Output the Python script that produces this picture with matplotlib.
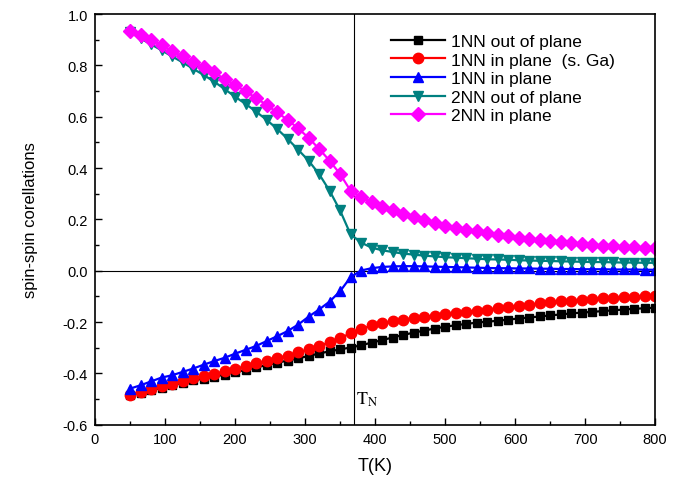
import matplotlib
matplotlib.use("Agg")
import matplotlib.pyplot as plt
from matplotlib.ticker import MultipleLocator

plt.rcParams['font.family'] = ['Liberation Sans', 'DejaVu Sans']
plt.rcParams['mathtext.fontset'] = 'stix'

T = [50 + 15 * i for i in range(51)]

nn1_out = [-0.485, -0.475, -0.466, -0.455, -0.446, -0.436, -0.427, -0.42, -0.413, -0.404,
           -0.395, -0.386, -0.376, -0.368, -0.358, -0.35, -0.341, -0.332, -0.322, -0.314,
           -0.306, -0.299, -0.29, -0.28, -0.27, -0.26, -0.25, -0.241, -0.233, -0.225,
           -0.218, -0.212, -0.207, -0.202, -0.198, -0.195, -0.19, -0.186, -0.182, -0.178,
           -0.174, -0.17, -0.166, -0.163, -0.16, -0.157, -0.154, -0.151, -0.148, -0.146,
           -0.144]
nn1_in_ga = [-0.482, -0.472, -0.462, -0.45, -0.44, -0.429, -0.418, -0.41, -0.401, -0.392,
             -0.382, -0.372, -0.361, -0.351, -0.34, -0.33, -0.318, -0.306, -0.293, -0.278,
             -0.262, -0.244, -0.227, -0.213, -0.205, -0.197, -0.19, -0.184, -0.179, -0.175,
             -0.17, -0.165, -0.159, -0.155, -0.151, -0.146, -0.141, -0.136, -0.132, -0.127,
             -0.123, -0.119, -0.116, -0.112, -0.109, -0.107, -0.105, -0.103, -0.101, -0.1,
             -0.098]
nn1_in = [-0.459, -0.446, -0.431, -0.416, -0.407, -0.394, -0.381, -0.366, -0.352, -0.339,
          -0.323, -0.308, -0.293, -0.274, -0.255, -0.235, -0.21, -0.179, -0.151, -0.12,
          -0.08, -0.025, 0.001, 0.01, 0.015, 0.017, 0.018, 0.018, 0.017, 0.016,
          0.015, 0.014, 0.013, 0.012, 0.011, 0.01, 0.01, 0.009, 0.009, 0.008,
          0.008, 0.007, 0.007, 0.006, 0.006, 0.006, 0.005, 0.005, 0.005, 0.004,
          0.004]
nn2_out = [0.93, 0.905, 0.882, 0.859, 0.835, 0.812, 0.787, 0.763, 0.737, 0.708,
           0.678, 0.65, 0.62, 0.588, 0.553, 0.514, 0.472, 0.429, 0.377, 0.312,
           0.235, 0.142, 0.11, 0.09, 0.08, 0.073, 0.067, 0.063, 0.059, 0.056,
           0.053, 0.051, 0.049, 0.047, 0.045, 0.044, 0.043, 0.041, 0.04, 0.039,
           0.038, 0.037, 0.036, 0.035, 0.034, 0.034, 0.033, 0.032, 0.032, 0.031,
           0.031]
nn2_in = [0.935, 0.92, 0.899, 0.879, 0.855, 0.835, 0.814, 0.792, 0.773, 0.747,
          0.724, 0.699, 0.673, 0.646, 0.617, 0.588, 0.555, 0.518, 0.475, 0.429,
          0.377, 0.312, 0.287, 0.267, 0.248, 0.235, 0.222, 0.209, 0.196, 0.187,
          0.176, 0.167, 0.16, 0.153, 0.147, 0.14, 0.135, 0.128, 0.125, 0.121,
          0.116, 0.112, 0.108, 0.104, 0.101, 0.098, 0.096, 0.093, 0.092, 0.089,
          0.088]

T_N = 370

fig = plt.figure(figsize=(6.81, 4.85), dpi=100)
ax = fig.add_axes([0.1395, 0.122, 0.8225, 0.847])

ax.axvline(T_N, color='black', lw=0.8, zorder=1)
ax.axhline(0, color='black', lw=0.8, zorder=1)

ax.plot(T, nn1_out, '-s', color='black', ms=6.3, lw=1.6, label='1NN out of plane')
ax.plot(T, nn1_in_ga, '-o', color='red', ms=7.5, lw=1.6, label='1NN in plane  (s. Ga)')
ax.plot(T, nn1_in, '-^', color='blue', ms=7.8, lw=1.6, label='1NN in plane')
ax.plot(T, nn2_out, '-v', color='#008080', ms=7.8, lw=1.6, label='2NN out of plane')
ax.plot(T, nn2_in, '-D', color='magenta', ms=6.8, lw=1.6, label='2NN in plane')

ax.text(373, -0.5, r'$\mathrm{T_N}$', fontsize=13, va='center', ha='left')

ax.set_xlim(0, 800)
ax.set_ylim(-0.6, 1.0)
ax.xaxis.set_major_locator(MultipleLocator(100))
ax.xaxis.set_minor_locator(MultipleLocator(50))
ax.yaxis.set_major_locator(MultipleLocator(0.2))
ax.yaxis.set_minor_locator(MultipleLocator(0.1))
ax.yaxis.set_major_formatter(plt.FuncFormatter(lambda v, p: f'{v:.1f}'))
ax.tick_params(which='both', direction='in', labelsize=10.5, width=1)
ax.tick_params(which='major', length=5, pad=5)
ax.tick_params(which='minor', length=3)
for s in ax.spines.values():
    s.set_linewidth(1.2)

ax.set_xlabel('T(K)', fontsize=13, labelpad=8)
ax.set_ylabel('spin-spin corellations', fontsize=12, labelpad=18)

ax.legend(loc='upper left', bbox_to_anchor=(0.5, 0.99), frameon=False,
          fontsize=12.5, handlelength=3.1, labelspacing=0.2, handletextpad=0.4)

fig.savefig('out.png', dpi=100)
